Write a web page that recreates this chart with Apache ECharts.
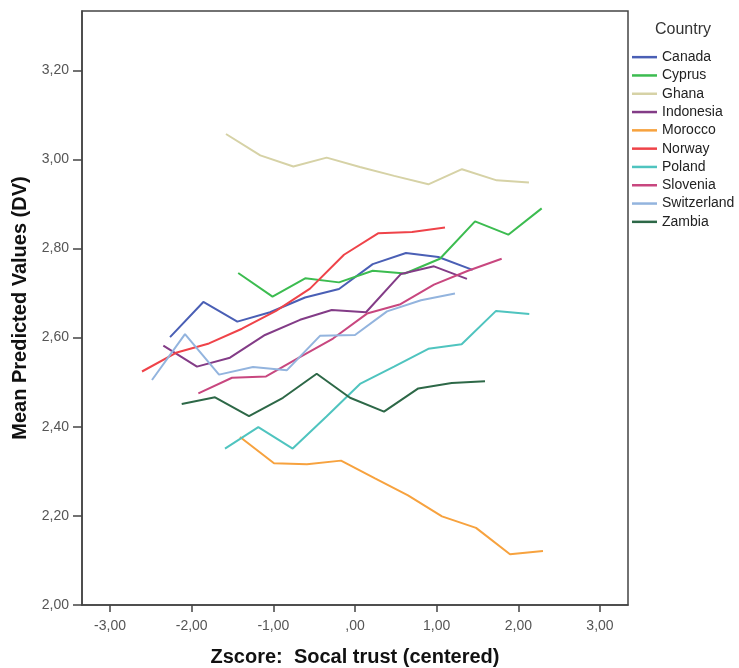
<!DOCTYPE html>
<html>
<head>
<meta charset="utf-8">
<script src="https://cdn.jsdelivr.net/npm/echarts@6/dist/echarts.min.js"></script>
<style>html,body{margin:0;padding:0;background:#fff}#c{width:739px;height:668px}</style>
</head>
<body>
<div id="c"></div>
<script>
// ---- data ----
const countries = ['Canada','Cyprus','Ghana','Indonesia','Morocco','Norway','Poland','Slovenia','Switzerland','Zambia'];
const colors = ['#4a5fb5','#3cbc50','#d6d2a6','#833c87','#f7a23e','#ef4349','#4fc4bf','#c8477f','#93b4de','#2d6847'];

const canada = [[-2.265,2.601],[-1.857,2.680],[-1.441,2.636],[-1.04,2.657],[-0.612,2.690],[-0.196,2.709],[0.217,2.765],[0.624,2.790],[1.02,2.781],[1.44,2.752]];
const cyprus = [[-1.43,2.745],[-1.01,2.692],[-0.61,2.733],[-0.196,2.724],[0.217,2.750],[0.612,2.744],[1.04,2.777],[1.47,2.861],[1.877,2.831],[2.286,2.890]];
const ghana = [[-1.58,3.057],[-1.16,3.009],[-0.755,2.984],[-0.347,3.004],[0.06,2.983],[0.48,2.963],[0.898,2.944],[1.31,2.978],[1.735,2.953],[2.13,2.948]];
const indonesia = [[-2.347,2.582],[-1.935,2.535],[-1.531,2.555],[-1.102,2.606],[-0.673,2.640],[-0.285,2.662],[0.135,2.657],[0.563,2.743],[0.967,2.760],[1.371,2.732]];
const morocco = [[-1.408,2.377],[-0.992,2.318],[-0.588,2.316],[-0.171,2.324],[0.245,2.284],[0.649,2.246],[1.065,2.199],[1.482,2.173],[1.898,2.114],[2.302,2.121]];
const norway = [[-2.608,2.524],[-2.192,2.566],[-1.788,2.587],[-1.384,2.620],[-0.967,2.660],[-0.551,2.710],[-0.135,2.786],[0.282,2.834],[0.698,2.837],[1.102,2.847]];
const poland = [[-1.592,2.351],[-1.184,2.399],[-0.763,2.351],[-0.349,2.423],[0.061,2.496],[0.478,2.535],[0.898,2.575],[1.306,2.585],[1.727,2.660],[2.134,2.653]];
const slovenia = [[-1.918,2.475],[-1.506,2.510],[-1.089,2.513],[-0.686,2.555],[-0.269,2.598],[0.147,2.654],[0.557,2.675],[0.967,2.719],[1.384,2.750],[1.796,2.777]];
const switzerland = [[-2.486,2.505],[-2.082,2.608],[-1.665,2.517],[-1.249,2.534],[-0.833,2.527],[-0.429,2.604],[0.0,2.606],[0.392,2.659],[0.808,2.684],[1.224,2.699]];
const zambia = [[-2.122,2.451],[-1.714,2.466],[-1.298,2.424],[-0.882,2.465],[-0.469,2.519],[-0.061,2.465],[0.355,2.434],[0.775,2.486],[1.184,2.498],[1.592,2.502]];

const xTicks = [-3,-2,-1,0,1,2,3];
const yTicks = [2.0,2.2,2.4,2.6,2.8,3.0,3.2];
const xTitle = 'Zscore:  Socal trust (centered)';
const yTitle = 'Mean Predicted Values (DV)';
const legendTitle = 'Country';

const seriesData = [canada,cyprus,ghana,indonesia,morocco,norway,poland,slovenia,switzerland,zambia];

function fmt(v){
  let s = Math.abs(v).toFixed(2).replace('.', ',');
  if (Math.abs(v) < 1) s = s.replace(/^0/, '');
  return (v < -1e-9 ? '-' : '') + s;
}

const chart = echarts.init(document.getElementById('c'), null, {renderer:'canvas'});
chart.setOption({
  animation:false,
  backgroundColor:'#fff',
  color: colors,
  title:{text:legendTitle,left:655,top:22,padding:0,textStyle:{fontFamily:'Liberation Sans, Arial',fontSize:16,fontWeight:'normal',color:'#333'}},
  legend:{
    orient:'vertical', left:632, top:48, padding:0,
    icon:'rect', itemWidth:25, itemHeight:2.5, itemGap:0,
    textStyle:{fontFamily:'Liberation Sans, Arial',fontSize:14,color:'#222',lineHeight:18.3},
    data: countries
  },
  grid:{left:82,top:11,right:111,bottom:63,outerBoundsMode:'none',containLabel:false,show:true,borderColor:'#444',borderWidth:1.5,backgroundColor:'transparent'},
  xAxis:{
    type:'value', min:-3.343, max:3.343,
    name:xTitle, nameLocation:'middle', nameGap:42,
    nameTextStyle:{fontFamily:'Liberation Sans, Arial',fontSize:20,fontWeight:'bold',color:'#111'},
    axisLine:{show:true,onZero:false,lineStyle:{color:'#444',width:1.5}},
    axisTick:{show:true,length:7,lineStyle:{color:'#444',width:1.5},customValues:xTicks},
    axisLabel:{customValues:xTicks,formatter:fmt,fontFamily:'Liberation Sans, Arial',fontSize:14,color:'#555',margin:14},
    splitLine:{show:false}
  },
  yAxis:{
    type:'value', min:2.0, max:3.333,
    name:yTitle, nameLocation:'middle', nameGap:52, nameRotate:90,
    nameTextStyle:{fontFamily:'Liberation Sans, Arial',fontSize:20,fontWeight:'bold',color:'#111'},
    axisLine:{show:true,onZero:false,lineStyle:{color:'#444',width:1.5}},
    axisTick:{show:true,length:9,lineStyle:{color:'#444',width:1.5},customValues:yTicks},
    axisLabel:{customValues:yTicks,formatter:fmt,fontFamily:'Liberation Sans, Arial',fontSize:14,color:'#555',margin:13},
    splitLine:{show:false}
  },
  series: countries.map((n,i)=>({
    name:n, type:'line', data:seriesData[i], showSymbol:false, symbol:'none',
    lineStyle:{width:2,color:colors[i]}, itemStyle:{color:colors[i]}
  }))
});
</script>
</body>
</html>
